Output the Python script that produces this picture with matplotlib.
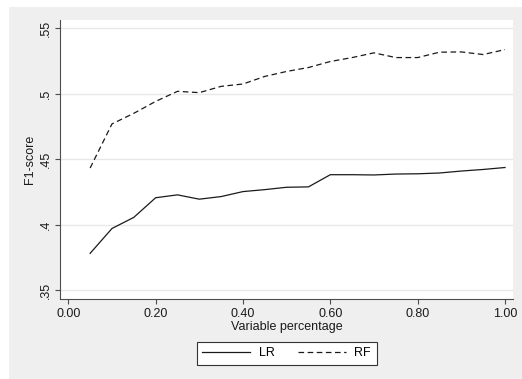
import matplotlib
matplotlib.use("Agg")
from matplotlib import pyplot as plt
from matplotlib.patches import Rectangle
from matplotlib.ticker import FuncFormatter

# share of variables used (x) and F1-score of each model
pct = [0.05, 0.10, 0.15, 0.20, 0.25, 0.30, 0.35, 0.40, 0.45, 0.50,
       0.55, 0.60, 0.65, 0.70, 0.75, 0.80, 0.85, 0.90, 0.95, 1.00]
lr_f1 = [0.378, 0.397, 0.4055, 0.4205, 0.4227, 0.4194, 0.4214, 0.4252, 0.4267, 0.4285,
         0.4288, 0.4381, 0.4381, 0.4379, 0.4386, 0.4388, 0.4394, 0.4409, 0.4421, 0.4436]
rf_f1 = [0.4432, 0.4769, 0.485, 0.4941, 0.5018, 0.5008, 0.5056, 0.5074, 0.5132, 0.517,
         0.520, 0.5246, 0.5276, 0.5312, 0.5276, 0.5276, 0.5317, 0.5319, 0.5299, 0.5337]
xticks = [0.0, 0.2, 0.4, 0.6, 0.8, 1.0]
yticks = [0.35, 0.40, 0.45, 0.50, 0.55]

plt.rcParams['font.family'] = ['Liberation Sans', 'DejaVu Sans']
plt.rcParams['font.size'] = 9

fig = plt.figure(figsize=(5.22, 3.79), dpi=100)
fig.patch.set_facecolor('white')
# stata style grey graph region, drawn under the axes
fig.patches.append(Rectangle((9 / 522, 0.5 / 379), 513 / 522, 371.5 / 379,
                             transform=fig.transFigure, facecolor='#efefef',
                             edgecolor='none', zorder=-10))

ax = fig.add_axes([60 / 522, 1 - 299.3 / 379, 453.3 / 522, 279.3 / 379])
ax.set_facecolor('white')

ax.plot(pct, lr_f1, color='#1a1a1a', lw=0.9, label='LR')
ax.plot(pct, rf_f1, color='#1a1a1a', lw=0.9, linestyle=(0, (4.5, 2.8)), label='RF')

ax.set_xlim(-0.019, 1.019)
ax.set_ylim(0.3429, 0.5563)
ax.set_xticks(xticks)
ax.set_yticks(yticks)
ax.xaxis.set_major_formatter(FuncFormatter(lambda v, p: '%.2f' % v))
ax.yaxis.set_major_formatter(FuncFormatter(lambda v, p: ('%g' % round(v, 2)).lstrip('0')))
for lab in ax.get_yticklabels():
    lab.set_rotation(90)
    lab.set_va('center')
ax.tick_params(axis='y', length=3.8, width=0.8, color='#4d4d4d', pad=2.0, labelcolor='#1a1a1a')
ax.tick_params(axis='x', length=3.5, width=0.8, color='#4d4d4d', pad=3.0, labelcolor='#1a1a1a')

ax.grid(axis='y', color='#e8e8e8', lw=1.0)
ax.set_axisbelow(True)
for s in ['top', 'right']:
    ax.spines[s].set_visible(False)
for s in ['left', 'bottom']:
    ax.spines[s].set_color('#4d4d4d')
    ax.spines[s].set_linewidth(0.8)

ax.set_xlabel('Variable percentage', color='#1a1a1a')
ax.xaxis.set_label_coords(0.5, -0.078)
ax.set_ylabel('F1-score', color='#1a1a1a')
ax.yaxis.set_label_coords(-0.052, 0.5)

leg = fig.legend(loc='center', bbox_to_anchor=(286.7 / 522, 1 - 353.5 / 379), ncol=2,
                 frameon=True, fancybox=False, framealpha=1, handlelength=3.85,
                 handletextpad=0.65, columnspacing=1.9, borderpad=0.45, fontsize=9)
leg.get_frame().set_edgecolor('#333333')
leg.get_frame().set_linewidth(0.8)
leg.get_frame().set_facecolor('white')

fig.savefig('out.png', dpi=100, facecolor=fig.get_facecolor())
